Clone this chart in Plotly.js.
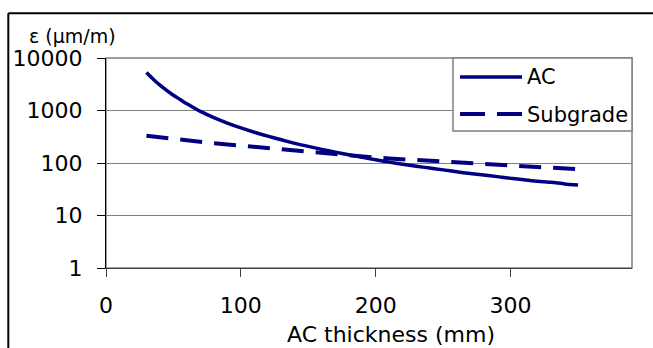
<!DOCTYPE html>
<html>
<head>
<meta charset="utf-8">
<script src="https://cdn.plot.ly/plotly-3.0.1.min.js"></script>
<style>html,body{margin:0;padding:0;background:#fff;overflow:hidden;}#chart{width:653px;height:348px;}</style>
</head>
<body>
<div id="chart"></div>
<script>
// Data
const thickness = [30,35,40,45,50,55,60,65,70,80,90,100,110,120,130,140,150,160,170,180,190,200,210,220,230,240,250,260,270,280,290,300,310,320,330,340,350];
const acStrain = [5300,3950,3050,2420,1950,1620,1340,1130,960,730,575,465,385,325,277,237,207,182,161,143,128,115,104,95,87,80,74,68,63,59,55,51,48,45,43,40,38];
const subgradeStrain = [330,318,306,295,285,276,268,260,252,238,225,213,202,192,182,172,163,156,150,141,133,127,122,118,113,108,104,100,97,94,90,87,85,82,80,78,76];
const seriesNames = ["AC", "Subgrade"];
const yTickVals = [1, 10, 100, 1000, 10000];
const yTickText = ["1", "10", "100", "1000", "10000"];
const xTickVals = [0, 100, 200, 300];
const xTickText = ["0", "100", "200", "300"];

const NAVY = "#000080";
const FONT = "'DejaVu Sans', Arial, sans-serif";
const acLine = {color: NAVY, width: 3.5, dash: "solid", shape: "spline", smoothing: 0.6};
const sgLine = {color: NAVY, width: 4, dash: "22px,12px"};

const traces = [
  {x: thickness, y: acStrain, name: seriesNames[0], type: "scatter", mode: "lines", line: acLine, showlegend: false},
  {x: thickness, y: subgradeStrain, name: seriesNames[1], type: "scatter", mode: "lines", line: sgLine, showlegend: false}
];

// pixel -> paper helpers (plot area 526x210 starting at 106,58)
const fx = px => (px - 106) / 526;
const fy = py => (268 - py) / 210;

const layout = {
  width: 653, height: 348,
  margin: {l: 106, r: 21, t: 58, b: 80, pad: 0},
  paper_bgcolor: "#fff", plot_bgcolor: "#fff",
  font: {family: FONT, color: "#000", size: 22},
  showlegend: false,
  xaxis: {
    range: [0, 390], tickvals: xTickVals, ticktext: xTickText,
    showgrid: false, zeroline: false,
    showline: true, linecolor: "#404040", linewidth: 1,
    ticks: "outside", ticklen: 8, tickcolor: "#404040", tickwidth: 1,
    ticklabelstandoff: 10,
    tickfont: {family: FONT, size: 22, color: "#000"}
  },
  yaxis: {
    type: "log", range: [0, 4], tickvals: yTickVals, ticktext: yTickText,
    showgrid: true, gridcolor: "#808080", gridwidth: 1, zeroline: false,
    showline: true, linecolor: "#000", linewidth: 1,
    ticks: "outside", ticklen: 8, tickcolor: "#000", tickwidth: 1,
    ticklabelstandoff: 10,
    tickfont: {family: FONT, size: 22, color: "#000"}
  },
  shapes: [
    // outer chart frame: left edge
    {type: "line", xref: "paper", yref: "paper", x0: fx(8.3), x1: fx(8.3), y0: fy(348), y1: fy(13.3), line: {color: "#000", width: 2}, layer: "below"},
    // outer chart frame: top edge
    {type: "line", xref: "paper", yref: "paper", x0: fx(8.3), x1: fx(653), y0: fy(13.3), y1: fy(13.3), line: {color: "#000", width: 2}, layer: "below"},
    // plot area border (top / right)
    {type: "rect", xref: "paper", yref: "paper", x0: 0, x1: 1, y0: 0, y1: 1, line: {color: "#808080", width: 1.5}, fillcolor: "rgba(0,0,0,0)", layer: "below"},
    // legend box
    {type: "rect", xref: "paper", yref: "paper", x0: fx(453), x1: 1.0, y0: fy(131), y1: 1.0, line: {color: "#808080", width: 1.5}, fillcolor: "#fff", layer: "above"},
    // legend samples
    {type: "line", xref: "paper", yref: "paper", x0: fx(460), x1: fx(522), y0: fy(77), y1: fy(77), line: {color: NAVY, width: 3.5}, layer: "above"},
    {type: "line", xref: "paper", yref: "paper", x0: fx(460), x1: fx(522), y0: fy(114), y1: fy(114), line: {color: NAVY, width: 4, dash: "25px,12px"}, layer: "above"}
  ],
  annotations: [
    {text: seriesNames[0], xref: "paper", yref: "paper", x: fx(525), y: fy(77), xanchor: "left", yanchor: "middle", showarrow: false, font: {family: FONT, size: 21, color: "#000"}},
    {text: seriesNames[1], xref: "paper", yref: "paper", x: fx(525), y: fy(115), xanchor: "left", yanchor: "middle", showarrow: false, font: {family: FONT, size: 21, color: "#000"}},
    {text: "ε (μm/m)", xref: "paper", yref: "paper", x: fx(72), y: fy(36), xanchor: "center", yanchor: "middle", showarrow: false, font: {family: FONT, size: 19, color: "#000"}},
    {text: "AC thickness (mm)", xref: "paper", yref: "paper", x: fx(391), y: fy(334), xanchor: "center", yanchor: "middle", showarrow: false, font: {family: FONT, size: 22, color: "#000"}}
  ]
};

Plotly.newPlot("chart", traces, layout, {displayModeBar: false, staticPlot: true});
</script>
</body>
</html>
